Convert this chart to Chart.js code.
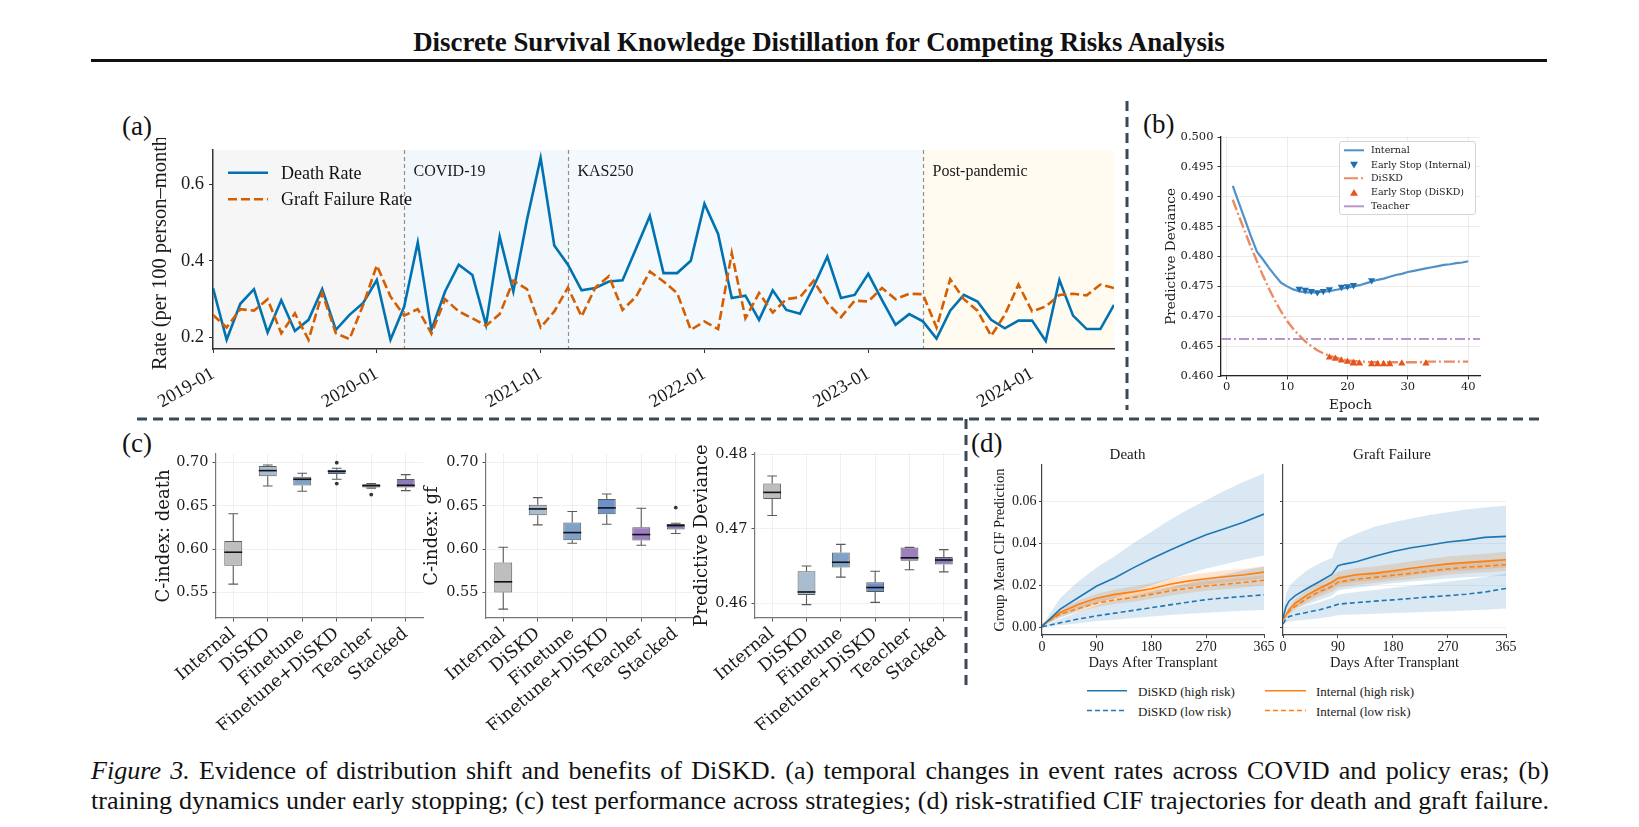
<!DOCTYPE html>
<html>
<head>
<meta charset="utf-8">
<title>DiSKD - Figure 3</title>
<script src="https://cdn.jsdelivr.net/npm/chart.js@4.4.1/dist/chart.umd.min.js"></script>
<style>
  html, body { margin: 0; padding: 0; background: #fff; }
  body { position: relative; width: 1639px; height: 827px; overflow: hidden;
         font-family: "Liberation Serif", "Times New Roman", serif; color: #111; }
  canvas { position: absolute; }
  .t { position: absolute; white-space: nowrap; line-height: 1; }
  .panel { font-size: 27px; transform: translateY(-50%); }
  .leg { position: absolute; }
  .leg .row { position: absolute; left: 0; white-space: nowrap; line-height: 1; transform: translateY(-50%); }
  .leg svg { position: absolute; }
  .cap { position: absolute; left: 91px; width: 1458px; line-height: 28px; font-size: 22px; }
</style>
</head>
<body>

<div id="title" class="t" style="left:819px;top:42px;font-weight:bold;font-size:23px;transform:translate(-50%,-50%)">Discrete Survival Knowledge Distillation for Competing Risks Analysis</div>
<div style="position:absolute;left:91px;top:59px;width:1456px;height:2.5px;background:#111"></div>

<svg width="1639" height="827" style="position:absolute;left:0;top:0">
  <g stroke="#3b4857" stroke-width="3" stroke-dasharray="10 6">
    <line x1="137" y1="419" x2="1541" y2="419"/>
    <line x1="1127" y1="101" x2="1127" y2="410"/>
    <line x1="966" y1="419" x2="966" y2="690"/>
  </g>
</svg>

<div class="t panel" style="left:122px;top:126px">(a)</div>
<div class="t panel" style="left:1143px;top:124px">(b)</div>
<div class="t panel" style="left:122px;top:443px">(c)</div>
<div class="t panel" style="left:971px;top:443px">(d)</div>

<canvas id="chartA"></canvas>
<canvas id="chartB"></canvas>
<canvas id="chartC1"></canvas>
<canvas id="chartC2"></canvas>
<canvas id="chartC3"></canvas>
<canvas id="chartD1"></canvas>
<canvas id="chartD2"></canvas>

<!-- legend (a) -->
<div class="leg" style="left:228px;top:0;font-size:18px">
  <svg width="40" height="400" style="left:0;top:0">
    <line x1="0" y1="172.7" x2="40" y2="172.7" stroke="#0072B2" stroke-width="2.6"/>
    <line x1="0" y1="199.3" x2="40" y2="199.3" stroke="#D55E00" stroke-width="2.6" stroke-dasharray="9 4"/>
  </svg>
  <div class="row" style="left:53px;top:172.7px">Death Rate</div>
  <div class="row" style="left:53px;top:199.3px">Graft Failure Rate</div>
</div>

<!-- legend (b) -->
<div class="leg" style="left:1339px;top:141px;width:135px;height:72px;border:1px solid #d4d4d4;border-radius:3px;background:rgba(255,255,255,0.85);font-family:'DejaVu Serif',serif;font-size:9.5px;color:#222">
  <svg width="30" height="72" style="left:0;top:0">
    <line x1="4" y1="8.3" x2="24" y2="8.3" stroke="#4f92c9" stroke-width="2"/>
    <polygon points="10,19.7 18,19.7 14,26.4" fill="#1f6fb0"/>
    <line x1="4" y1="36.3" x2="24" y2="36.3" stroke="#ec8a60" stroke-width="2" stroke-dasharray="14 3 2 3"/>
    <polygon points="10,53.8 18,53.8 14,47" fill="#e4541b"/>
    <line x1="4" y1="64.3" x2="24" y2="64.3" stroke="#b895cc" stroke-width="2"/>
  </svg>
  <div class="row" style="left:31px;top:8.3px">Internal</div>
  <div class="row" style="left:31px;top:22.7px">Early Stop (Internal)</div>
  <div class="row" style="left:31px;top:36.3px">DiSKD</div>
  <div class="row" style="left:31px;top:50.3px">Early Stop (DiSKD)</div>
  <div class="row" style="left:31px;top:64.3px">Teacher</div>
</div>

<!-- legend (d) -->
<div class="leg" style="left:1087px;top:680px;font-size:13px;color:#222">
  <svg width="260" height="40" style="left:0;top:0">
    <line x1="0" y1="10.7" x2="40" y2="10.7" stroke="#1f77b4" stroke-width="1.6"/>
    <line x1="0" y1="30.5" x2="40" y2="30.5" stroke="#1f77b4" stroke-width="1.6" stroke-dasharray="5 3"/>
    <line x1="178" y1="10.7" x2="219" y2="10.7" stroke="#ff7f0e" stroke-width="1.6"/>
    <line x1="178" y1="30.5" x2="219" y2="30.5" stroke="#ff7f0e" stroke-width="1.6" stroke-dasharray="5 3"/>
  </svg>
  <div class="row" style="left:51px;top:10.7px">DiSKD (high risk)</div>
  <div class="row" style="left:51px;top:30.5px">DiSKD (low risk)</div>
  <div class="row" style="left:229px;top:10.7px">Internal (high risk)</div>
  <div class="row" style="left:229px;top:30.5px">Internal (low risk)</div>
</div>

<div id="cap1" class="cap" style="top:757px;text-align:justify;text-align-last:justify"><i>Figure 3.</i> Evidence of distribution shift and benefits of DiSKD. (a) temporal changes in event rates across COVID and policy eras; (b)</div>
<div id="cap2" class="cap" style="top:786.5px;text-align:justify;text-align-last:justify">training dynamics under early stopping; (c) test performance across strategies; (d) risk-stratified CIF trajectories for death and graft failure.</div>

<script>
// ---------- (a) monthly event rates, 2019-01 .. 2024-07 (index = months since 2019-01) ----------
var deathRate = [0.329, 0.194, 0.288, 0.326, 0.213, 0.297, 0.217, 0.246, 0.326, 0.220, 0.259, 0.290,
                 0.350, 0.194, 0.280, 0.448, 0.220, 0.320, 0.390, 0.363, 0.233, 0.463, 0.320, 0.507,
                 0.668, 0.440, 0.390, 0.323, 0.329, 0.346, 0.349, 0.433, 0.517, 0.368, 0.368, 0.400,
                 0.549, 0.470, 0.303, 0.309, 0.246, 0.323, 0.272, 0.262, 0.333, 0.411, 0.303, 0.311,
                 0.366, 0.298, 0.233, 0.261, 0.242, 0.197, 0.270, 0.311, 0.294, 0.246, 0.224, 0.244,
                 0.244, 0.191, 0.350, 0.257, 0.222, 0.222, 0.285];
var graftRate = [0.259, 0.226, 0.274, 0.270, 0.300, 0.211, 0.263, 0.194, 0.316, 0.211, 0.196, 0.285,
                 0.388, 0.307, 0.257, 0.274, 0.210, 0.300, 0.268, 0.250, 0.231, 0.261, 0.348, 0.326,
                 0.226, 0.268, 0.330, 0.255, 0.330, 0.360, 0.272, 0.307, 0.372, 0.346, 0.316, 0.220,
                 0.242, 0.222, 0.420, 0.250, 0.316, 0.265, 0.300, 0.305, 0.348, 0.290, 0.253, 0.296,
                 0.294, 0.329, 0.300, 0.314, 0.313, 0.226, 0.352, 0.300, 0.270, 0.204, 0.259, 0.338,
                 0.268, 0.281, 0.311, 0.314, 0.310, 0.338, 0.329];
var yearIdx = [0, 12, 24, 36, 48, 60];
var yearTicks = ['2019-01', '2020-01', '2021-01', '2022-01', '2023-01', '2024-01'];
var eraStart = [0, 14, 26, 52];
var eraNames = ['', 'COVID-19', 'KAS250', 'Post-pandemic'];
var eraFill = ['#f6f6f6', '#f2f7fc', '#f4f9fd', '#fffbf1'];

// ---------- (b) training curves ----------
var epochs = [];
for (var e = 1; e <= 40; e++) epochs.push(e);
var internalDev = [0.4918, 0.4890, 0.4862, 0.4834, 0.4808, 0.4795, 0.4781, 0.4768, 0.4756, 0.4750,
                   0.4745, 0.4742, 0.4740, 0.4740, 0.4740, 0.4741, 0.4742, 0.4744, 0.4746, 0.4748,
                   0.4750, 0.4752, 0.4755, 0.4758, 0.4761, 0.4763, 0.4766, 0.4769, 0.4771, 0.4774,
                   0.4776, 0.4778, 0.4780, 0.4782, 0.4784, 0.4786, 0.4787, 0.4789, 0.4790, 0.4792];
var diskdDev = [0.4895, 0.4868, 0.4842, 0.4816, 0.4792, 0.4768, 0.4746, 0.4726, 0.4708, 0.4692,
                0.4679, 0.4668, 0.4658, 0.4650, 0.4643, 0.4638, 0.4634, 0.4631, 0.4628, 0.4626,
                0.4625, 0.4624, 0.4624, 0.4623, 0.4623, 0.4623, 0.4623, 0.4623, 0.4623, 0.4623,
                0.4623, 0.4623, 0.4624, 0.4624, 0.4624, 0.4624, 0.4624, 0.4624, 0.4624, 0.4624];
var esIntEpoch = [12, 13, 14, 15, 16, 17, 19, 20, 21, 24];
var esIntDev = [0.4746, 0.4744, 0.4742, 0.4740, 0.4742, 0.4745, 0.4749, 0.4750, 0.4752, 0.4760];
var esKdEpoch = [17, 18, 19, 20, 21, 21, 22, 24, 25, 26, 27, 29, 33];
var esKdDev = [0.4631, 0.4629, 0.4626, 0.4624, 0.4622, 0.4621, 0.4621, 0.4620, 0.4620, 0.4620, 0.4620, 0.4621, 0.4621];
var teacherDev = 0.4662;

// ---------- (c) test performance, [min, q1, median, q3, max] ----------
var strategies = ['Internal', 'DiSKD', 'Finetune', 'Finetune+DiSKD', 'Teacher', 'Stacked'];
var cDeath = [[0.5596, 0.5808, 0.5965, 0.6096, 0.6410],
              [0.6731, 0.6842, 0.6908, 0.6962, 0.6973],
              [0.6669, 0.6735, 0.6808, 0.6838, 0.6877],
              [0.6808, 0.6869, 0.6900, 0.6919, 0.6935],
              [0.6706, 0.6712, 0.6735, 0.6750, 0.6758],
              [0.6677, 0.6712, 0.6738, 0.6812, 0.6862]];
var cDeathOut = [['Finetune+DiSKD', 0.7000], ['Finetune+DiSKD', 0.6758], ['Teacher', 0.6631]];
var cGf = [[0.5308, 0.5500, 0.5623, 0.5846, 0.6023],
           [0.6281, 0.6392, 0.6465, 0.6515, 0.6596],
           [0.6069, 0.6104, 0.6192, 0.6308, 0.6435],
           [0.6288, 0.6404, 0.6477, 0.6581, 0.6638],
           [0.6046, 0.6100, 0.6169, 0.6254, 0.6473],
           [0.6181, 0.6227, 0.6273, 0.6292, 0.6300]];
var cGfOut = [['Stacked', 0.6481]];
var cDev = [[0.4718, 0.4740, 0.4749, 0.4761, 0.4771],
            [0.4598, 0.4611, 0.4615, 0.4643, 0.4650],
            [0.4635, 0.4648, 0.4655, 0.4668, 0.4679],
            [0.4601, 0.4615, 0.4621, 0.4628, 0.4643],
            [0.4645, 0.4657, 0.4661, 0.4675, 0.4675],
            [0.4642, 0.4652, 0.4658, 0.4662, 0.4672]];
var cDevOut = [];
var boxFill = ['#bebebe', '#a8bdd0', '#7ea2c9', '#6d91c8', '#9b7fbf', '#8c7bbb'];

// ---------- (d) group mean CIF ----------
var deathDays = [0, 30, 60, 90, 120, 150, 180, 210, 240, 270, 300, 330, 365];
var deathKdHigh   = [0.0005, 0.0087, 0.0142, 0.0197, 0.0236, 0.0283, 0.0326, 0.0367, 0.0405, 0.0441, 0.0469, 0.0499, 0.0539];
var deathKdHighUp = [0.0008, 0.0140, 0.0220, 0.0285, 0.0340, 0.0400, 0.0455, 0.0510, 0.0560, 0.0605, 0.0650, 0.0690, 0.0732];
var deathKdHighLo = [0.0003, 0.0045, 0.0080, 0.0115, 0.0140, 0.0170, 0.0200, 0.0230, 0.0255, 0.0280, 0.0300, 0.0320, 0.0342];
var deathKdLow    = [0.0003, 0.0022, 0.0040, 0.0055, 0.0068, 0.0081, 0.0094, 0.0107, 0.0120, 0.0132, 0.0140, 0.0147, 0.0155];
var deathKdLowUp  = [0.0005, 0.0040, 0.0075, 0.0105, 0.0130, 0.0150, 0.0170, 0.0190, 0.0210, 0.0230, 0.0250, 0.0270, 0.0290];
var deathKdLowLo  = [0.0001, 0.0010, 0.0020, 0.0030, 0.0037, 0.0045, 0.0052, 0.0059, 0.0065, 0.0070, 0.0075, 0.0079, 0.0083];
var deathInHigh   = [0.0010, 0.0071, 0.0110, 0.0139, 0.0157, 0.0169, 0.0184, 0.0205, 0.0220, 0.0231, 0.0241, 0.0249, 0.0263];
var deathInHighUp = [0.0012, 0.0085, 0.0128, 0.0160, 0.0180, 0.0194, 0.0210, 0.0232, 0.0248, 0.0260, 0.0270, 0.0278, 0.0291];
var deathInHighLo = [0.0008, 0.0058, 0.0093, 0.0118, 0.0135, 0.0146, 0.0160, 0.0180, 0.0194, 0.0204, 0.0213, 0.0221, 0.0235];
var deathInLow    = [0.0010, 0.0063, 0.0090, 0.0115, 0.0131, 0.0142, 0.0157, 0.0173, 0.0186, 0.0197, 0.0205, 0.0213, 0.0224];
var deathInLowUp  = [0.0012, 0.0075, 0.0105, 0.0133, 0.0150, 0.0162, 0.0178, 0.0195, 0.0208, 0.0220, 0.0229, 0.0237, 0.0248];
var deathInLowLo  = [0.0008, 0.0051, 0.0075, 0.0097, 0.0112, 0.0122, 0.0136, 0.0151, 0.0164, 0.0174, 0.0181, 0.0189, 0.0200];

var gfDays = [0, 5, 10, 20, 40, 60, 80, 90, 100, 120, 150, 180, 210, 240, 270, 300, 330, 365];
var gfKdHigh   = [0.0044, 0.0099, 0.0126, 0.0151, 0.0186, 0.0218, 0.0252, 0.0293, 0.0301, 0.0312, 0.0338, 0.0361, 0.0379, 0.0392, 0.0406, 0.0415, 0.0428, 0.0433];
var gfKdHighUp = [0.0060, 0.0160, 0.0194, 0.0225, 0.0273, 0.0305, 0.0330, 0.0400, 0.0420, 0.0445, 0.0478, 0.0500, 0.0518, 0.0534, 0.0548, 0.0560, 0.0570, 0.0580];
var gfKdHighLo = [0.0030, 0.0060, 0.0075, 0.0090, 0.0110, 0.0130, 0.0150, 0.0175, 0.0180, 0.0188, 0.0200, 0.0210, 0.0218, 0.0225, 0.0232, 0.0238, 0.0242, 0.0246];
var gfKdLow    = [0.0017, 0.0040, 0.0052, 0.0060, 0.0072, 0.0084, 0.0100, 0.0110, 0.0113, 0.0118, 0.0125, 0.0131, 0.0138, 0.0145, 0.0151, 0.0158, 0.0168, 0.0185];
var gfKdLowUp  = [0.0025, 0.0060, 0.0075, 0.0088, 0.0105, 0.0120, 0.0140, 0.0155, 0.0160, 0.0168, 0.0178, 0.0188, 0.0198, 0.0208, 0.0218, 0.0228, 0.0240, 0.0255];
var gfKdLowLo  = [0.0010, 0.0022, 0.0028, 0.0032, 0.0038, 0.0044, 0.0052, 0.0058, 0.0060, 0.0062, 0.0065, 0.0068, 0.0071, 0.0074, 0.0077, 0.0080, 0.0084, 0.0090];
var gfInHigh   = [0.0036, 0.0060, 0.0084, 0.0115, 0.0155, 0.0186, 0.0215, 0.0234, 0.0240, 0.0250, 0.0257, 0.0268, 0.0281, 0.0292, 0.0302, 0.0308, 0.0314, 0.0322];
var gfInHighUp = [0.0042, 0.0070, 0.0098, 0.0135, 0.0180, 0.0214, 0.0245, 0.0265, 0.0272, 0.0282, 0.0290, 0.0302, 0.0315, 0.0326, 0.0337, 0.0344, 0.0350, 0.0360];
var gfInHighLo = [0.0030, 0.0050, 0.0070, 0.0095, 0.0130, 0.0158, 0.0185, 0.0203, 0.0208, 0.0218, 0.0224, 0.0234, 0.0247, 0.0258, 0.0267, 0.0272, 0.0278, 0.0285];
var gfInLow    = [0.0036, 0.0055, 0.0076, 0.0100, 0.0139, 0.0171, 0.0194, 0.0215, 0.0220, 0.0229, 0.0238, 0.0248, 0.0257, 0.0268, 0.0278, 0.0286, 0.0291, 0.0298];
var gfInLowUp  = [0.0042, 0.0064, 0.0088, 0.0116, 0.0160, 0.0195, 0.0220, 0.0242, 0.0247, 0.0256, 0.0265, 0.0275, 0.0285, 0.0296, 0.0306, 0.0314, 0.0320, 0.0328];
var gfInLowLo  = [0.0030, 0.0046, 0.0064, 0.0084, 0.0118, 0.0147, 0.0168, 0.0188, 0.0193, 0.0202, 0.0211, 0.0221, 0.0229, 0.0240, 0.0250, 0.0258, 0.0262, 0.0268];
var dayTicks = [0, 90, 180, 270, 365];

// ---------------------------------------------------------------------------

Chart.defaults.animation = false;
Chart.defaults.color = '#1a1a1a';
Chart.defaults.plugins.legend.display = false;
Chart.defaults.plugins.tooltip.enabled = false;

var TIMES = '"Liberation Serif", "Times New Roman", serif';
var DEJAVU = '"DejaVu Serif", serif';

// plot area boxes: l/t/r/b = chart area, yw = y axis width, pt/pr = room above/right, xh = x axis height
var frameA  = { l: 213,  t: 150, r: 1114, b: 349, yw: 65, pt: 12, pr: 12, xh: 66 };
var frameB  = { l: 1221, t: 137, r: 1480, b: 376, yw: 58, pt: 8,  pr: 10, xh: 38 };
var frameC1 = { l: 216,  t: 454, r: 423,  b: 618, yw: 62, pt: 10, pr: 4,  xh: 112 };
var frameC2 = { l: 486,  t: 454, r: 693,  b: 618, yw: 64, pt: 10, pr: 4,  xh: 112 };
var frameC3 = { l: 755,  t: 453, r: 961,  b: 618, yw: 63, pt: 10, pr: 4,  xh: 112 };
var frameD1 = { l: 1042, t: 465, r: 1264, b: 635, yw: 51, pt: 19, pr: 12, xh: 37 };
var frameD2 = { l: 1283, t: 465, r: 1506, b: 635, yw: 5,  pt: 19, pr: 12, xh: 37 };

function place(id, f) {
    var c = document.getElementById(id);
    var w = Math.round(f.r - f.l + f.yw + f.pr);
    var h = Math.round(f.b - f.t + f.pt + f.xh);
    c.width = w;
    c.height = h;
    c.style.left = (f.l - f.yw) + 'px';
    c.style.top = (f.t - f.pt) + 'px';
    c.style.width = w + 'px';
    c.style.height = h + 'px';
    return c;
}
function fixY(w) { return function (s) { s.width = w; s.paddingTop = 0; s.paddingBottom = 0; s.paddingLeft = 0; s.paddingRight = 0; }; }
function fixX(h) { return function (s) { s.height = h; s.paddingLeft = 0; s.paddingRight = 0; s.paddingTop = 0; s.paddingBottom = 0; }; }
function tickAt(vals) { return function (s) { s.ticks = vals.map(function (v) { return { value: v }; }); }; }
function xy(xs, ys) { return ys.map(function (v, i) { return { x: xs[i], y: v }; }); }
function monthIdx(arr) { return arr.map(function (v, i) { return i; }); }

// era shading for panel (a)
var eraPlugin = {
    id: 'eras',
    beforeDraw: function (chart) {
        var ctx = chart.ctx, a = chart.chartArea, xs = chart.scales.x;
        ctx.save();
        for (var i = 0; i < eraStart.length; i++) {
            var x0 = xs.getPixelForValue(eraStart[i]);
            var x1 = i + 1 < eraStart.length ? xs.getPixelForValue(eraStart[i + 1]) : a.right;
            ctx.fillStyle = eraFill[i];
            ctx.fillRect(x0, a.top, x1 - x0, a.bottom - a.top);
        }
        ctx.strokeStyle = '#8f8f8f';
        ctx.lineWidth = 1.2;
        ctx.setLineDash([4, 3]);
        ctx.fillStyle = '#1a1a1a';
        ctx.font = '16px ' + TIMES;
        ctx.textBaseline = 'middle';
        for (i = 1; i < eraStart.length; i++) {
            var x = Math.round(xs.getPixelForValue(eraStart[i])) + 0.5;
            ctx.beginPath();
            ctx.moveTo(x, a.top);
            ctx.lineTo(x, a.bottom);
            ctx.stroke();
            ctx.fillText(eraNames[i], x + 9, a.top + 22);
        }
        ctx.restore();
    }
};

// whiskers and medians for the box plots in panel (c)
var boxPlugin = {
    id: 'boxes',
    beforeDatasetsDraw: function (chart, args, opts) {
        var ctx = chart.ctx, xs = chart.scales.x, ys = chart.scales.y;
        var bars = chart.getDatasetMeta(0).data;
        ctx.save();
        ctx.strokeStyle = '#5a5a5a';
        ctx.lineWidth = 1.1;
        opts.stats.forEach(function (s, i) {
            var cx = xs.getPixelForValue(i), cap = bars[i].width * 0.27;
            var y0 = ys.getPixelForValue(s[0]), y1 = ys.getPixelForValue(s[1]);
            var y3 = ys.getPixelForValue(s[3]), y4 = ys.getPixelForValue(s[4]);
            ctx.beginPath();
            ctx.moveTo(cx, y1); ctx.lineTo(cx, y0);
            ctx.moveTo(cx, y3); ctx.lineTo(cx, y4);
            ctx.moveTo(cx - cap, y0); ctx.lineTo(cx + cap, y0);
            ctx.moveTo(cx - cap, y4); ctx.lineTo(cx + cap, y4);
            ctx.stroke();
        });
        ctx.restore();
    },
    afterDatasetsDraw: function (chart, args, opts) {
        var ctx = chart.ctx, xs = chart.scales.x, ys = chart.scales.y;
        var bars = chart.getDatasetMeta(0).data;
        ctx.save();
        ctx.strokeStyle = '#111';
        ctx.lineWidth = 1.6;
        opts.stats.forEach(function (s, i) {
            var cx = xs.getPixelForValue(i), hw = bars[i].width / 2;
            var ym = ys.getPixelForValue(s[2]);
            ctx.beginPath();
            ctx.moveTo(cx - hw, ym); ctx.lineTo(cx + hw, ym);
            ctx.stroke();
        });
        ctx.restore();
    }
};

// ---------- panel (a) ----------
new Chart(place('chartA', frameA), {
    type: 'line',
    data: {
        datasets: [
            { label: 'Graft Failure Rate', data: xy(monthIdx(graftRate), graftRate), borderColor: '#D55E00',
              borderWidth: 2.6, borderDash: [9, 4], pointRadius: 0, tension: 0 },
            { label: 'Death Rate', data: xy(monthIdx(deathRate), deathRate), borderColor: '#0072B2',
              borderWidth: 2.6, pointRadius: 0, tension: 0 }
        ]
    },
    options: {
        responsive: false,
        layout: { padding: { top: frameA.pt, right: frameA.pr, left: 0, bottom: 0 } },
        scales: {
            x: {
                type: 'linear', min: 0, max: 66,
                afterBuildTicks: tickAt(yearIdx), afterFit: fixX(frameA.xh),
                grid: { display: true, drawOnChartArea: false, tickLength: 4, tickColor: '#333' },
                border: { color: '#333', width: 1.5 },
                ticks: { autoSkip: false, minRotation: 30, maxRotation: 30, padding: 10,
                         font: { family: TIMES, size: 18.5 },
                         callback: function (v) { return yearTicks[yearIdx.indexOf(v)]; } }
            },
            y: {
                min: 0.170, max: 0.689,
                afterBuildTicks: tickAt([0.2, 0.4, 0.6]), afterFit: fixY(frameA.yw),
                grid: { display: true, drawOnChartArea: false, tickLength: 4, tickColor: '#333' },
                border: { color: '#333', width: 1.5 },
                ticks: { padding: 5, font: { family: TIMES, size: 18.5 },
                         callback: function (v) { return v.toFixed(1); } },
                title: { display: true, text: 'Rate (per 100 person–month)', padding: 0,
                         font: { family: TIMES, size: 20.5 } }
            }
        }
    },
    plugins: [eraPlugin]
});

// ---------- panel (b) ----------
var gridB = { color: 'rgba(0,0,0,0.07)', tickLength: 3.5, tickColor: '#333' };
new Chart(place('chartB', frameB), {
    type: 'line',
    data: {
        datasets: [
            { label: 'Early Stop (Internal)', data: xy(esIntEpoch, esIntDev), showLine: false,
              pointStyle: 'triangle', rotation: 180, pointRadius: 4.2, pointBackgroundColor: '#1f6fb0', pointBorderWidth: 0 },
            { label: 'Early Stop (DiSKD)', data: xy(esKdEpoch, esKdDev), showLine: false,
              pointStyle: 'triangle', pointRadius: 4.2, pointBackgroundColor: '#e4541b', pointBorderWidth: 0 },
            { label: 'Internal', data: xy(epochs, internalDev), borderColor: '#4f92c9', borderWidth: 2.2, pointRadius: 0 },
            { label: 'DiSKD', data: xy(epochs, diskdDev), borderColor: '#ec8a60', borderWidth: 2.4,
              borderDash: [11, 3, 2, 3], pointRadius: 0 },
            { label: 'Teacher', data: [{ x: -0.95, y: teacherDev }, { x: 41.95, y: teacherDev }],
              borderColor: '#b895cc', borderWidth: 2, borderDash: [10, 3, 2, 3], pointRadius: 0 }
        ]
    },
    options: {
        responsive: false,
        layout: { padding: { top: frameB.pt, right: frameB.pr, left: 0, bottom: 0 } },
        scales: {
            x: {
                type: 'linear', min: -0.95, max: 41.95,
                afterBuildTicks: tickAt([0, 10, 20, 30, 40]), afterFit: fixX(frameB.xh),
                grid: gridB, border: { color: '#222', width: 1.3 },
                ticks: { padding: 1, maxRotation: 0, font: { family: DEJAVU, size: 11.5 } },
                title: { display: true, text: 'Epoch', padding: 0, font: { family: DEJAVU, size: 13.5 } }
            },
            y: {
                min: 0.460, max: 0.500,
                afterBuildTicks: tickAt([0.46, 0.465, 0.47, 0.475, 0.48, 0.485, 0.49, 0.495, 0.5]),
                afterFit: fixY(frameB.yw),
                grid: gridB, border: { color: '#222', width: 1.3 },
                ticks: { padding: 4, font: { family: DEJAVU, size: 11.5 },
                         callback: function (v) { return v.toFixed(3); } },
                title: { display: true, text: 'Predictive Deviance', padding: 0, font: { family: DEJAVU, size: 13.5 } }
            }
        }
    }
});

// ---------- panel (c) ----------
function boxChart(id, f, stats, outliers, yMin, yMax, yTicks, yTitle) {
    var grid = { color: 'rgba(0,0,0,0.06)', offset: false, tickLength: 3.5, tickColor: '#555' };
    return new Chart(place(id, f), {
        type: 'bar',
        data: {
            labels: strategies,
            datasets: [
                { type: 'bar', data: stats.map(function (s) { return [s[1], s[3]]; }),
                  backgroundColor: boxFill, borderColor: '#5a5a5a', borderWidth: 1, borderSkipped: false,
                  barPercentage: 0.52, categoryPercentage: 1 },
                { type: 'line', data: outliers.map(function (o) { return { x: o[0], y: o[1] }; }),
                  showLine: false, pointRadius: 1.9, pointBackgroundColor: '#333', pointBorderWidth: 0 }
            ]
        },
        options: {
            responsive: false,
            layout: { padding: { top: f.pt, right: f.pr, left: 0, bottom: 0 } },
            plugins: { boxes: { stats: stats } },
            scales: {
                x: {
                    afterFit: fixX(f.xh), grid: grid, border: { color: '#777', width: 1.2 },
                    ticks: { autoSkip: false, minRotation: 40, maxRotation: 40, padding: 2,
                             font: { family: DEJAVU, size: 17.5 } }
                },
                y: {
                    min: yMin, max: yMax, afterBuildTicks: tickAt(yTicks), afterFit: fixY(f.yw),
                    grid: grid, border: { color: '#777', width: 1.2 },
                    ticks: { padding: 4, font: { family: DEJAVU, size: 14.5 },
                             callback: function (v) { return v.toFixed(2); } },
                    title: { display: true, text: yTitle, padding: 0, font: { family: DEJAVU, size: 18 } }
                }
            }
        },
        plugins: [boxPlugin]
    });
}
boxChart('chartC1', frameC1, cDeath, cDeathOut, 0.5205, 0.710, [0.55, 0.60, 0.65, 0.70], 'C-index: death');
boxChart('chartC2', frameC2, cGf, cGfOut, 0.5205, 0.710, [0.55, 0.60, 0.65, 0.70], 'C-index: gf');
boxChart('chartC3', frameC3, cDev, cDevOut, 0.4580, 0.4802, [0.46, 0.47, 0.48], 'Predictive Deviance');

// ---------- panel (d) ----------
var BLUE = '#1f77b4', ORANGE = '#ff7f0e';
var BLUE_BAND = 'rgba(31,119,180,0.17)', ORANGE_BAND = 'rgba(255,127,14,0.2)';
function cifChart(id, f, days, s, title, showY) {
    function line(arr, color, dash) {
        return { data: xy(days, arr), borderColor: color, borderWidth: 1.6, borderDash: dash, pointRadius: 0, fill: false };
    }
    function band(arr, color, target) {
        return { data: xy(days, arr), borderColor: 'rgba(0,0,0,0)', borderWidth: 0.01, pointRadius: 0,
                 backgroundColor: color, fill: target };
    }
    var grid = { color: 'rgba(0,0,0,0.06)', tickLength: 3, tickColor: '#444' };
    return new Chart(place(id, f), {
        type: 'line',
        data: {
            datasets: [
                line(s[0], BLUE, []), line(s[3], BLUE, [5, 3]), line(s[6], ORANGE, []), line(s[9], ORANGE, [5, 3]),
                band(s[1], BLUE_BAND, '+1'), band(s[2], BLUE_BAND, false),
                band(s[4], BLUE_BAND, '+1'), band(s[5], BLUE_BAND, false),
                band(s[7], ORANGE_BAND, '+1'), band(s[8], ORANGE_BAND, false),
                band(s[10], ORANGE_BAND, '+1'), band(s[11], ORANGE_BAND, false)
            ]
        },
        options: {
            responsive: false,
            layout: { padding: { top: 0, right: f.pr, left: 0, bottom: 0 } },
            plugins: {
                title: { display: true, text: title, padding: { top: 0, bottom: 1 },
                         font: { family: TIMES, size: 15, weight: 'normal' }, color: '#1a1a1a' }
            },
            scales: {
                x: {
                    type: 'linear', min: 0, max: 365,
                    afterBuildTicks: tickAt(dayTicks), afterFit: fixX(f.xh),
                    grid: { display: true, drawOnChartArea: false, tickLength: 3, tickColor: '#444' },
                    border: { color: '#444', width: 1.2 },
                    ticks: { padding: 0.5, maxRotation: 0, font: { family: TIMES, size: 14 } },
                    title: { display: true, text: 'Days After Transplant', padding: 0, font: { family: TIMES, size: 14.5 } }
                },
                y: {
                    min: -0.0036, max: 0.0772,
                    afterBuildTicks: tickAt([0, 0.02, 0.04, 0.06]), afterFit: fixY(f.yw),
                    grid: grid, border: { color: '#444', width: 1.2 },
                    ticks: { display: showY, padding: 2.6, font: { family: TIMES, size: 14 },
                             callback: function (v) { return v.toFixed(2); } },
                    title: { display: showY, text: 'Group Mean CIF Prediction', padding: 0,
                             font: { family: TIMES, size: 14.5 } }
                }
            }
        }
    });
}
cifChart('chartD1', frameD1, deathDays,
    [deathKdHigh, deathKdHighUp, deathKdHighLo, deathKdLow, deathKdLowUp, deathKdLowLo,
     deathInHigh, deathInHighUp, deathInHighLo, deathInLow, deathInLowUp, deathInLowLo], 'Death', true);
cifChart('chartD2', frameD2, gfDays,
    [gfKdHigh, gfKdHighUp, gfKdHighLo, gfKdLow, gfKdLowUp, gfKdLowLo,
     gfInHigh, gfInHighUp, gfInHighLo, gfInLow, gfInLowUp, gfInLowLo], 'Graft Failure', false);

// fit the title and caption text to the widths they take in the figure
(function () {
    function fit(el, target) {
        var probe = el.cloneNode(true);
        probe.removeAttribute('id');
        probe.style.cssText = 'position:absolute;visibility:hidden;white-space:nowrap;width:auto;left:0;top:0;font-size:22px;' +
            (el.id === 'title' ? 'font-weight:bold;' : '');
        document.body.appendChild(probe);
        var w = probe.getBoundingClientRect().width;
        document.body.removeChild(probe);
        return 22 * target / w;
    }
    var t = document.getElementById('title');
    t.style.fontSize = fit(t, 812) + 'px';
    var size = fit(document.getElementById('cap2'), 1452);
    document.getElementById('cap1').style.fontSize = size + 'px';
    document.getElementById('cap2').style.fontSize = size + 'px';
})();
</script>
</body>
</html>
